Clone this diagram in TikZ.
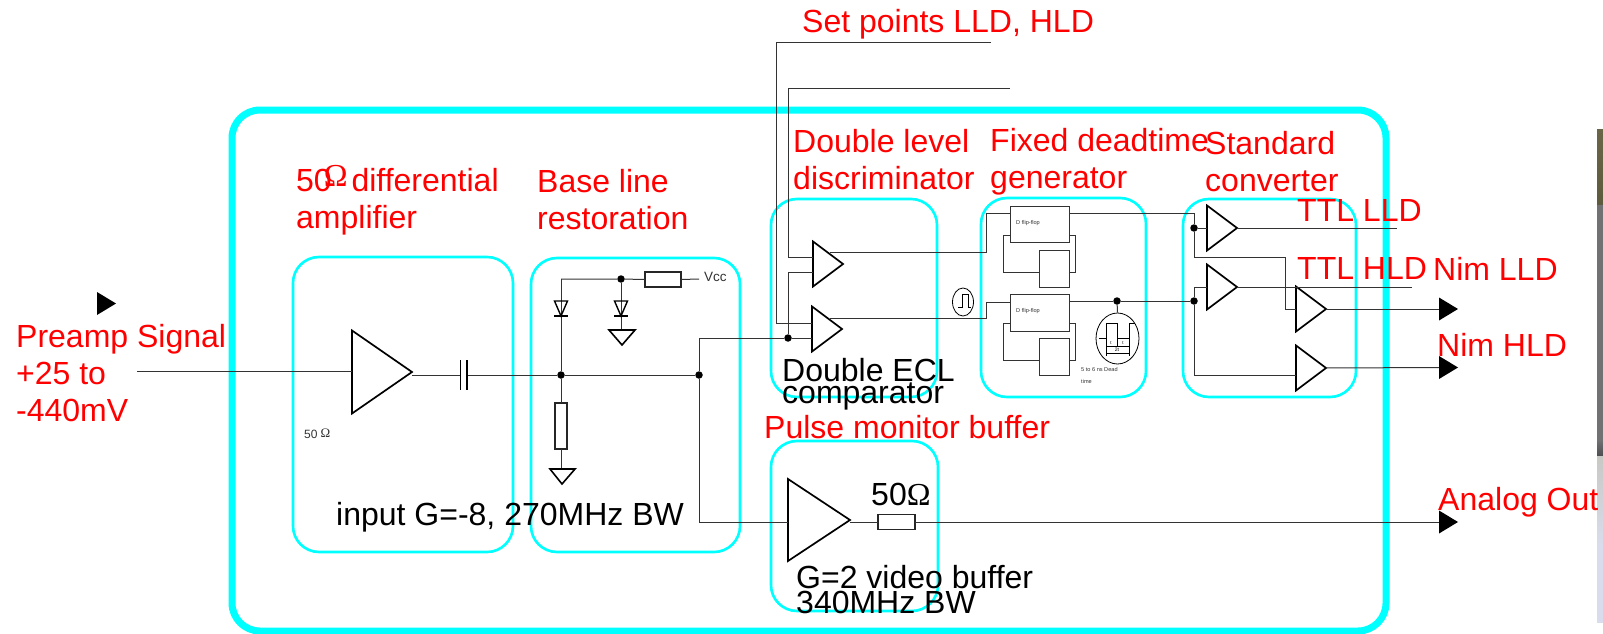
\documentclass[tikz,border=0pt]{standalone}
\usepackage{fontspec}
\setmainfont{Liberation Sans}
\newfontfamily\omegafont{Liberation Serif}
\usetikzlibrary{shapes.geometric}
\definecolor{wirecol}{HTML}{333333}
\definecolor{boxcyan}{HTML}{00FFFF}
\definecolor{stripA}{HTML}{6B6548}
\definecolor{stripB}{HTML}{5E5A3E}
\definecolor{stripC}{HTML}{717073}
\definecolor{stripD}{HTML}{4E4E52}
\definecolor{stripE}{HTML}{C8C8C4}
\definecolor{stripF}{HTML}{D9DCEC}
\newcommand{\bigom}{{\omegafont\fontsize{32}{32}\selectfont Ω}}
\tikzset{
  x=1pt,y=-1pt,
  outerbox/.style={draw=boxcyan,line width=7pt,rounded corners=28pt},
  innerbox/.style={draw=boxcyan,line width=2.6pt,rounded corners=26pt},
  wire/.style={draw=wirecol,line width=1pt},
  amptri/.style={isosceles triangle,isosceles triangle stretches,draw=black,line width=1.7pt,fill=none,
    inner sep=0pt,outer sep=0pt,anchor=lower side,shape border rotate=0},
  comp/.style={amptri,minimum width=45pt,minimum height=30pt},
  outarrow/.style={isosceles triangle,isosceles triangle stretches,fill=black,draw=none,
    inner sep=0pt,outer sep=0pt,anchor=lower side,minimum width=23pt,minimum height=19pt},
  jdot/.style={circle,fill=black,draw=none,minimum size=7.5pt,inner sep=0pt},
  resbox/.style={rectangle,draw=black!85,line width=1.6pt,fill=white,inner sep=0pt,outer sep=0pt},
  logicbox/.style={rectangle,draw=wirecol,line width=1pt,fill=white,inner sep=0pt,outer sep=0pt,anchor=north west},
  redlabel/.style={text=red,font=\fontsize{32}{37}\selectfont,inner sep=0pt,anchor=base west,align=left},
  blacklabel/.style={text=black,font=\fontsize{32}{37}\selectfont,inner sep=0pt,anchor=base west,align=left},
  tinylabel/.style={text=wirecol,font=\fontsize{5.6}{12}\selectfont,inner sep=0pt,anchor=base west,align=left},
  diodetri/.style={draw=black,line width=1.4pt},
  gndtri/.style={draw=black,line width=1.6pt},
  iconline/.style={draw=black,line width=.8pt},
}
\begin{document}
\begin{tikzpicture}
\useasboundingbox (0,0) rectangle (1603,634);
% photo strip at the right edge
\shade[top color=stripA,bottom color=stripB] (1597,129) rectangle (1603,205);
\fill[fill=stripC] (1597,205) rectangle (1603,440);
\shade[top color=stripC,bottom color=stripD] (1597,440) rectangle (1603,456);
\shade[top color=stripE,bottom color=stripF] (1597,456) rectangle (1603,545);
\fill[fill=stripF] (1597,545) rectangle (1603,623);

% cyan boxes
\draw[outerbox] (232,110) rectangle (1386,631);
\draw[innerbox] (293,257) rectangle (513,552);
\draw[innerbox] (531,258) rectangle (740,552);
\draw[innerbox] (771,199) rectangle (937,397);
\draw[innerbox] (771,441) rectangle (938,611);
\draw[innerbox] (981,198) rectangle (1146,397);
\draw[innerbox] (1183,199) rectangle (1356,397);

% amplifiers
\node[amptri,minimum width=83pt,minimum height=60pt] (inamp) at (352,372) {};
\node[comp] (cmpA) at (813,264) {};
\node[comp] (cmpB) at (812,329) {};
\node[amptri,minimum width=82pt,minimum height=62pt] (vidamp) at (788,520) {};
\node[comp] (ttlA) at (1207,228) {};
\node[comp] (ttlB) at (1207,287) {};
\node[comp] (nimA) at (1296,309) {};
\node[comp] (nimB) at (1296,368) {};

% output arrowheads
\node[outarrow] (preamparrow) at (97,303.5) {};
\node[outarrow] (nimLLDarrow) at (1439,309) {};
\node[outarrow] (nimHLDarrow) at (1439,367.5) {};
\node[outarrow] (analogarrow) at (1439,522) {};

% logic boxes
\node[logicbox,minimum width=59pt,minimum height=36pt] (ffA) at (1010,206) {};
\node[logicbox,minimum width=30pt,minimum height=37pt] (ffAb) at (1039,250) {};
\node[logicbox,minimum width=59pt,minimum height=37pt] (ffB) at (1010,294) {};
\node[logicbox,minimum width=30pt,minimum height=37pt] (ffBb) at (1039,338) {};

% resistors
\node[resbox,minimum width=36pt,minimum height=15pt] (rvcc) at (663,279.5) {};
\node[resbox,minimum width=12pt,minimum height=46pt] (rgnd) at (561,426) {};
\node[resbox,minimum width=37pt,minimum height=15pt] (rout) at (896.5,522) {};

% junction coordinates
\coordinate (instart) at (137,371);
\coordinate (capL) at (460,375);
\coordinate (capR) at (467,375);
\coordinate (vccend) at (699,279);
\coordinate (vcccorner) at (561,279);
\coordinate (gA) at (561,469);
\coordinate (gB) at (621,330);
\node[jdot] (jvcc) at (621,279) {};
\node[jdot] (jmid) at (561,375) {};
\node[jdot] (jout) at (699,375) {};
\node[jdot] (jcmp) at (788,338) {};
\node[jdot] (jffB) at (1117,301) {};
\node[jdot] (jttlA) at (1194,228) {};
\node[jdot] (jttlB) at (1194,301) {};

% wires
\draw[wire] (instart) -- (inamp.lower side |- instart);
\draw[wire] (inamp.apex |- capL) -- (capL);
\draw[wire] (capR) -- (jmid) -- (jout);
\draw[wire] (vcccorner) -- (jmid);
\draw[wire] (vcccorner) -- (jvcc) -- (rvcc.west);
\draw[wire] (rvcc.east) -- (vccend);
\draw[wire] (jvcc) -- (gB);
\draw[wire] (jmid) -- (rgnd.north);
\draw[wire] (rgnd.south) -- (gA);
\draw[wire] (699,338) -- (jout);
\draw[wire] (jout) |- (vidamp.lower side |- rout.west);
\draw[wire] (699,338) -- (jcmp) -- (812,338);
\draw[wire] (vidamp.apex |- rout.west) -- (rout.west);
\draw[wire] (rout.east) -- (analogarrow.lower side);
% set point lines
\coordinate (spA) at (991,43);
\coordinate (spB) at (1010,88);
\draw[wire] (spA) -- (776,43) -- (776,323) -- (812,323);
\draw[wire] (spB) -- (788.5,88) -- (788.5,257) -- (813,257);
\draw[wire] (jcmp) -- (788,272) -- (813,272);
% comparator outputs
\draw[wire] (830,252) -- (986,252) -- (986,213) -- (1010,213);
\draw[wire] (830,318) -- (986,318) -- (986,302) -- (ffB.west |- 0,302);
% feedback loops
\draw[wire] (1010,235) -- (1003,235) -- (1003,272) -- (1039,272);
\draw[wire] (1069,235) -- (1075,235) -- (1075,272) -- (1069,272);
\draw[wire] (1010,323) -- (1003,323) -- (1003,360) -- (1039,360);
\draw[wire] (1069,323) -- (1075,323) -- (1075,360) -- (1069,360);
% flip-flop outputs
\draw[wire] (1069,213) -- (1194,213) -- (jttlA);
\draw[wire] (jttlA) -- (1207,228);
\draw[wire] (jttlA) -- (1194,257) -- (1285,257) -- (1285,309) -- (nimA.lower side);
\draw[wire] (1069,301) -- (jffB) -- (jttlB);
\draw[wire] (jttlB) -- (1194,287) -- (1207,287);
\draw[wire] (jttlB) -- (1194,375) -- (1296,375);
\coordinate (ttlLLDend) at (1397,228);
\coordinate (ttlHLDend) at (1412,287);
\draw[wire] (ttlA.apex) -- (ttlLLDend);
\draw[wire] (ttlB.apex) -- (ttlHLDend);
\draw[wire] (nimA.apex) -- (nimLLDarrow.lower side);
\draw[wire] (nimB.apex) -- (nimHLDarrow.lower side);

% capacitor
\draw[draw=black,line width=1pt] (460,360) -- (460,390);
\draw[draw=black,line width=2pt] (467,360) -- (467,390);

% diodes and grounds
\draw[diodetri] (554.5,301) -- (567.5,301) -- (561,316) -- cycle;
\draw[diodetri] (554,316) -- (568,316);
\draw[diodetri] (614.5,301) -- (627.5,301) -- (621,316) -- cycle;
\draw[diodetri] (614,316) -- (628,316);
\draw[gndtri] (550,469) -- (575,469) -- (562,484) -- cycle;
\draw[gndtri] (609,330) -- (635,330) -- (622,345) -- cycle;

% pulse icon between stages
\node[draw=black,line width=.8pt,ellipse,minimum width=21pt,minimum height=28pt,inner sep=0pt] (picon) at (963,302) {};
\draw[iconline] (958,307) -- (962,307) -- (962,294) -- (968,294) -- (968,307) -- (971,307);

% dead-time icon
\node[draw=black,line width=.8pt,ellipse,minimum width=43pt,minimum height=51pt,inner sep=0pt] (dicon) at (1117.5,338.5) {};
\draw[wire] (jffB) -- (dicon.north);
\draw[iconline] (1099,338) -- (1106,338) -- (1106,323) -- (1117,323) -- (1117,338) -- (1129,338) -- (1129,323) -- (1135,323);
\draw[iconline] (1106,338) -- (1106,356);
\draw[iconline] (1117,338) -- (1117,346);
\draw[iconline] (1129,338) -- (1129,356);
\draw[iconline] (1106,346) -- (1129,346);
\draw[iconline] (1106,353) -- (1129,353);
\node[font=\fontsize{4.5}{5}\selectfont,inner sep=0pt] (tA) at (1111,343) {t};
\node[font=\fontsize{4.5}{5}\selectfont,inner sep=0pt] (tB) at (1123,343) {t};
\node[font=\fontsize{5}{5}\selectfont,fill=white,inner sep=0pt] (tC) at (1117,350) {2t};

% small labels
\node[tinylabel] (dffA) at (1016,224) {D flip-flop};
\node[tinylabel] (dffB) at (1016,312) {D flip-flop};
\node[tinylabel] (deadtxt) at (1081,383) {5 to 6 ns Dead\\time};
\node[inner sep=0pt,anchor=base west,text=wirecol,font=\fontsize{13.5}{14}\selectfont] (vcctxt) at (704,281) {Vcc};
\node[inner sep=0pt,anchor=base west,text=wirecol,font=\fontsize{12}{12}\selectfont] (fiftysmall) at (304,438) {50\kern3pt\raisebox{1pt}{\omegafont\fontsize{13}{13}\selectfont Ω}};

% red labels
\node[redlabel] (setpts) at (802,33) {Set points LLD, HLD};
\node[redlabel] (preamp) at (16,421) {Preamp Signal\\+25 to\\-440mV};
\node[redlabel] (difflab) at (296,228) {50\kern-8pt\raisebox{5pt}{\bigom}\kern4pt differential\\amplifier};
\node[redlabel] (baselab) at (537,229) {Base line\\restoration};
\node[redlabel] (doublelab) at (793,189) {Double level\\discriminator};
\node[redlabel] (fixedlab) at (990,188) {Fixed deadtime\\generator};
\node[redlabel] (stdlab) at (1205,191) {Standard\\converter};
\node[redlabel] (ttlL) at (1297,221) {TTL LLD};
\node[redlabel] (ttlH) at (1297,279) {TTL HLD};
\node[redlabel] (nimL) at (1433,280) {Nim LLD};
\node[redlabel] (nimH) at (1437,356) {Nim HLD};
\node[redlabel] (analog) at (1438,510) {Analog Out};
\node[redlabel] (pulselab) at (764,438) {Pulse monitor buffer};

% black labels
\node[blacklabel,font=\fontsize{32}{22}\selectfont] (ecl) at (782,403) {Double ECL\\comparator};
\node[blacklabel] (inputlab) at (336,525) {input G=-8, 270MHz BW};
\node[blacklabel,font=\fontsize{32}{25}\selectfont] (vidlab) at (796,613) {G=2 video buffer\\340MHz BW};
\node[blacklabel] (fiftyout) at (871,505) {50\bigom};
\end{tikzpicture}
\end{document}
